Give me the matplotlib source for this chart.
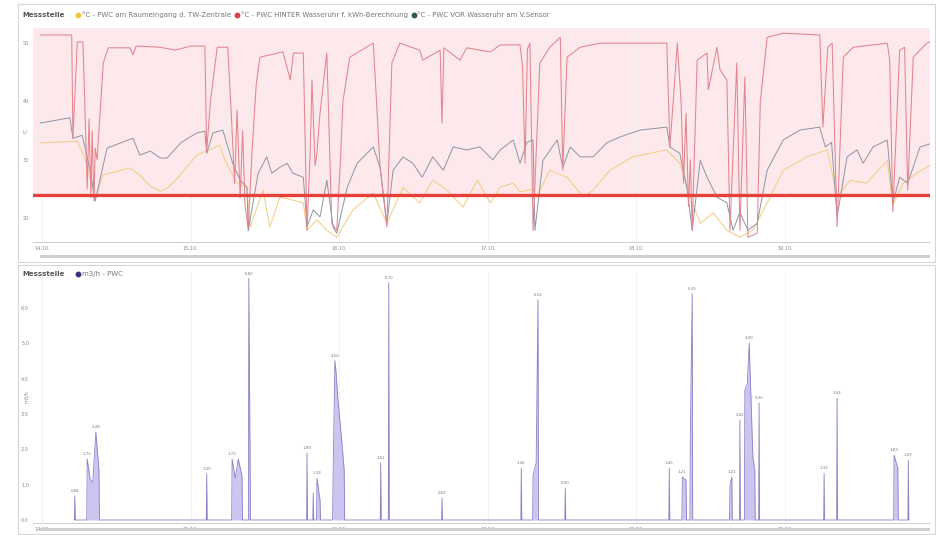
import matplotlib
matplotlib.use("Agg")
import matplotlib.pyplot as plt
from matplotlib.lines import Line2D
from matplotlib.patches import Rectangle

# °C - PWC HINTER Wasseruhr f. kWh-Berechnung
red_h = [-0.3, 4.8, 5.0, 5.7, 6.6, 6.9, 7.3, 7.6, 7.9, 8.1, 8.4, 8.6, 8.9, 9.5, 9.9, 10.7,
         14.2, 14.7, 15.2, 19.1, 21.5, 24.0, 26.3, 26.6, 27.2, 28.3, 30.0, 30.6, 31.1, 31.5,
         32.0, 32.4, 32.8, 33.3, 33.9, 34.6, 35.2, 38.9, 40.1, 40.6, 42.2, 42.8, 43.3, 43.6,
         44.1, 44.4, 44.9, 46.0, 46.8, 47.6, 48.2, 48.6, 49.7, 53.5, 54.6, 55.7, 56.5, 57.8,
         61.0, 61.5, 64.3, 64.6, 64.9, 67.5, 68.6, 72.4, 74.0, 77.2, 77.6, 78.0, 78.4, 78.8,
         79.3, 80.4, 82.0, 83.7, 84.1, 84.8, 86.9, 90.1, 100.9, 101.4, 102.6, 103.2, 103.6,
         104.0, 104.4, 104.7, 105.0, 105.8, 107.4, 107.6, 109.0, 109.5, 110.6, 111.1, 112.2,
         112.7, 113.5, 114.0, 115.5, 116.0, 117.1, 119.7, 125.6, 126.1, 126.9, 127.6, 128.4,
         129.4, 131.0, 136.5, 136.9, 137.4, 138.5, 139.3, 139.8, 140.7, 142.9, 144.0]
red_t = [51.4, 51.4, 33.7, 50.2, 50.2, 40.2, 25.0, 37.0, 23.5, 35.0, 22.9, 32.0, 30.0, 40.0, 46.6, 49.2,
         49.2, 48.0, 49.5, 49.3, 48.8, 49.5, 49.5, 31.5, 40.0, 49.3, 49.3, 37.2, 26.0, 38.5,
         23.5, 35.0, 22.0, 18.3, 31.0, 43.0, 47.6, 48.5, 43.7, 48.3, 48.3, 17.9, 31.0, 43.7,
         29.0, 31.1, 38.0, 48.3, 19.1, 17.9, 30.0, 40.0, 47.6, 50.0, 28.7, 18.5, 46.6, 50.0,
         48.8, 47.1, 48.8, 36.3, 49.2, 47.1, 49.2, 48.5, 49.7, 49.7, 46.0, 29.4, 49.0, 50.0,
         17.9, 46.6, 49.3, 51.0, 28.2, 47.6, 49.3, 50.0, 50.0, 32.2, 50.0, 40.0, 26.0,
         38.0, 22.0, 30.0, 17.9, 47.1, 48.3, 42.0, 49.3, 45.4, 43.7, 17.9, 46.6,
         17.9, 44.2, 16.7, 17.4, 40.0, 51.0, 51.7, 51.4, 35.6, 49.3, 50.0, 18.5,
         47.6, 49.3, 50.0, 47.0, 21.0, 48.8, 49.3, 24.8, 47.6, 50.0, 50.5]

# °C - PWC VOR Wasseruhr am V.Sensor
grey_h = [-0.3, 4.5, 5.0, 6.5, 7.8, 8.6, 10.5, 14.7, 15.8, 17.5, 19.1, 20.2, 22.5, 25.0, 26.3,
          26.6, 27.6, 29.2, 30.8, 32.0, 33.1, 33.3, 34.9, 36.3, 37.1, 38.4, 39.6, 40.5, 42.2,
          42.8, 43.8, 44.9, 46.0, 47.0, 47.6, 49.3, 50.9, 53.5, 54.6, 55.7, 56.7, 58.3, 59.9,
          61.4, 63.1, 64.8, 66.4, 68.6, 70.7, 72.8, 74.0, 76.1, 77.2, 78.3, 79.3, 79.6, 80.9,
          83.2, 84.1, 85.3, 86.9, 89.0, 91.2, 93.3, 96.6, 100.9, 101.4, 103.0, 104.2, 105.0,
          106.3, 107.4, 109.0, 110.6, 111.6, 112.7, 114.0, 115.5, 117.1, 119.7, 122.4, 125.6,
          126.5, 127.5, 128.4, 130.0, 131.6, 132.6, 134.2, 136.5, 137.4, 138.5, 139.8, 141.8, 143.9]
grey_t = [36.3, 37.2, 33.7, 34.2, 28.0, 22.9, 32.0, 33.7, 30.8, 31.5, 30.3, 30.3, 33.0, 34.6, 34.9,
          31.1, 34.6, 35.1, 29.4, 26.5, 25.3, 17.8, 27.7, 30.5, 27.7, 28.7, 29.4, 27.7, 27.0,
          18.5, 21.4, 20.2, 26.5, 18.5, 17.4, 25.3, 29.4, 32.2, 28.7, 19.1, 28.2, 30.5, 29.4,
          27.0, 30.5, 28.2, 32.2, 31.7, 32.2, 30.0, 31.7, 33.4, 29.4, 33.0, 33.4, 17.9, 29.9,
          33.4, 28.7, 32.2, 30.5, 30.5, 32.9, 33.9, 35.1, 35.6, 32.2, 31.1, 24.8, 17.9,
          29.9, 27.0, 23.6, 22.6, 17.9, 21.0, 17.9, 19.1, 28.2, 33.4, 35.1, 35.6,
          32.2, 33.0, 20.2, 30.5, 31.7, 29.4, 32.2, 33.4, 22.6, 27.0, 26.0, 32.2, 32.9]

# °C - PWC am Raumeingang d. TW-Zentrale
yel_h = [-0.3, 5.7, 7.0, 8.6, 9.9, 14.2, 15.8, 17.5, 19.1, 20.2, 22.0, 25.0, 28.7, 29.5, 31.5,
         33.1, 33.6, 35.7, 36.8, 38.4, 40.5, 42.2, 42.8, 44.4, 46.0, 47.6, 50.2, 53.5, 55.7,
         58.3, 61.0, 63.1, 65.4, 68.0, 70.3, 72.4, 74.0, 76.1, 77.2, 79.3, 79.9, 82.0, 84.8,
         87.4, 89.0, 91.7, 95.4, 100.9, 103.0, 104.7, 106.3, 108.4, 110.6, 112.7, 114.8, 117.1,
         119.7, 123.5, 126.8, 128.4, 130.5, 133.2, 136.5, 137.4, 139.1, 141.3, 143.9]
yel_t = [32.9, 33.2, 30.0, 23.4, 27.4, 28.6, 27.4, 25.5, 24.6, 25.1, 27.0, 30.8, 32.5, 30.0, 26.0,
         25.3, 18.5, 24.8, 18.5, 23.6, 23.1, 22.6, 17.9, 19.7, 17.9, 16.7, 21.4, 24.3, 19.1,
         25.3, 22.6, 26.5, 24.8, 21.9, 26.5, 22.6, 25.3, 26.0, 24.5, 25.0, 23.6, 28.2, 27.0,
         23.6, 24.8, 28.2, 30.5, 31.7, 29.4, 23.6, 19.1, 20.9, 17.9, 16.7, 17.9, 22.6,
         28.2, 30.5, 31.7, 23.6, 26.5, 26.0, 29.9, 22.3, 26.0, 27.7, 29.4]

# m3/h - PWC (Zapfereignisse)
flow_h = [5.3, 7.3, 7.8, 8.2, 8.7, 9.2, 26.6, 30.7, 31.2, 31.7, 32.3, 33.4, 33.6, 42.8, 43.8,
          44.4, 44.9, 47.0, 47.3, 47.5, 47.8, 48.1, 48.4, 48.8, 54.7, 56.0, 64.6, 77.4, 79.3,
          79.8, 80.1, 84.5, 101.3, 103.4, 104.0, 104.7, 105.0, 111.1, 111.4, 112.7, 113.5,
          113.9, 114.2, 114.5, 114.8, 115.1, 115.8, 126.3, 128.4, 137.6, 138.2, 139.9]
flow_v = [0.68, 1.72, 1.13, 1.07, 2.48, 1.41, 1.30, 1.72, 1.18, 1.72, 1.24, 6.82, 1.63, 1.89, 0.76,
          1.18, 0.56, 1.13, 4.50, 4.14, 3.38, 2.82, 2.25, 1.41, 1.61, 6.70, 0.62, 1.46, 1.27,
          1.61, 6.22, 0.90, 1.46, 1.21, 1.13, 2.45, 6.39, 0.99, 1.21, 2.82, 3.66,
          3.86, 4.99, 3.38, 1.77, 1.41, 3.30, 1.32, 3.44, 1.83, 1.46, 1.69]

day_ticks = [0, 24, 48, 72, 96, 120]
day_labels = ["14.10.", "15.10.", "16.10.", "17.10.", "18.10.", "19.10."]
temp_ticks = [20, 30, 40, 50]
flow_ticks = [0, 1, 2, 3, 4, 5, 6]
limit_temp = 24

W, H = 936, 535


def fx(px):
    return px / W


def fy(py):
    return 1 - py / H


def style_axes(ax, yticks, fmt):
    ax.set_xticks(day_ticks)
    ax.set_xticklabels(day_labels)
    ax.set_yticks(yticks)
    ax.set_yticklabels([fmt(v) for v in yticks])
    ax.tick_params(length=0, labelsize=3.5, labelcolor="#8a8a8a", pad=3)
    for s in ["top", "right", "left"]:
        ax.spines[s].set_visible(False)
    ax.spines["bottom"].set_color("#c8c8c8")
    ax.spines["bottom"].set_linewidth(0.6)
    ax.grid(axis="x", color="#f0f0f0", lw=0.6)
    ax.set_axisbelow(True)


fig = plt.figure(figsize=(W / 100, H / 100), dpi=100)

# Panel-Rahmen
for top, bot in [(4, 262), (265, 534)]:
    fig.add_artist(Rectangle((fx(18), fy(bot)), fx(917), (bot - top) / H,
                             transform=fig.transFigure, fill=False, ec="#d6d6d6", lw=0.8))

# --- Temperaturen ---
ax1 = fig.add_axes([fx(33), fy(242), fx(897), (242 - 28) / H])
ax1.set_xlim(-1.45, 143.4)
ax1.set_ylim(15.9, 52.6)
ax1.axhspan(limit_temp, 52.6, color="#fde9ec", lw=0, zorder=0)
ax1.plot(yel_h, yel_t, color="#f0cd7c", lw=0.7)
ax1.plot(grey_h, grey_t, color="#8d93a4", lw=0.7)
ax1.plot(red_h, red_t, color="#e3848f", lw=0.75)
ax1.axhline(limit_temp, color="#e5403a", lw=2.4)
style_axes(ax1, temp_ticks, lambda v: f"{v}")

fig.text(fx(22), fy(15), "Messstelle", fontsize=5, weight="bold", color="#555555", va="center")
handles = [Line2D([], [], ls="", marker="o", ms=3.2, color=c) for c in ["#f2c640", "#d8404a", "#2f5a48"]]
labels = ["°C - PWC am Raumeingang d. TW-Zentrale",
          "°C - PWC HINTER Wasseruhr f. kWh-Berechnung",
          "°C - PWC VOR Wasseruhr am V.Sensor"]
fig.legend(handles, labels, loc="center left", bbox_to_anchor=(fx(72), fy(15)), ncol=3,
           frameon=False, fontsize=5, handletextpad=0.1, columnspacing=0.5,
           handlelength=0.8, borderpad=0, labelcolor="#777777")
fig.text(fx(24), fy(131), "°C", fontsize=3.5, color="#8a8a8a", rotation=90, va="center")
fig.add_artist(Rectangle((fx(40), fy(258)), fx(890), 3 / H, transform=fig.transFigure,
                         fc="#cfcfcf", ec="none"))

# --- Durchfluss ---
ax2 = fig.add_axes([fx(33), fy(523), fx(897), (523 - 272) / H])
ax2.set_xlim(-1.45, 143.4)
ax2.set_ylim(-0.085, 7.0)
t_pts, v_pts = [], []
for i, (h, v) in enumerate(zip(flow_h, flow_v)):
    if i == 0 or h - flow_h[i - 1] > 0.6:
        t_pts += [h - 0.08, h - 0.07]
        v_pts += [0, 0]
    t_pts.append(h)
    v_pts.append(v)
    if i == len(flow_h) - 1 or flow_h[i + 1] - h > 0.6:
        t_pts += [h + 0.07, h + 0.08]
        v_pts += [0, 0]
ax2.fill_between(t_pts, v_pts, color="#cdc5ef", lw=0)
ax2.plot(t_pts, v_pts, color="#8b80c6", lw=0.6)

# Werte-Labels an den Spitzen (nur wenn genug Abstand zum vorigen Label)
last_h = -99
for i, (h, v) in enumerate(zip(flow_h, flow_v)):
    left = flow_v[i - 1] if i > 0 and h - flow_h[i - 1] <= 0.6 else 0
    right = flow_v[i + 1] if i < len(flow_h) - 1 and flow_h[i + 1] - h <= 0.6 else 0
    if v >= left and v >= right and h - last_h > 1.2:
        ax2.text(h, v + 0.08, f"{v:.2f}".replace(".", ","), fontsize=2.8,
                 color="#7a7a7a", ha="center", va="bottom")
        last_h = h
style_axes(ax2, flow_ticks, lambda v: f"{v:.1f}".replace(".", ","))

fig.text(fx(22), fy(274), "Messstelle", fontsize=5, weight="bold", color="#555555", va="center")
fig.legend([Line2D([], [], ls="", marker="o", ms=3.2, color="#3b3580")], ["m3/h - PWC"],
           loc="center left", bbox_to_anchor=(fx(72), fy(274)), frameon=False, fontsize=5,
           handletextpad=0.1, handlelength=0.8, borderpad=0, labelcolor="#777777")
fig.text(fx(24), fy(397), "m3/h", fontsize=3.5, color="#8a8a8a", rotation=90, va="center")
fig.add_artist(Rectangle((fx(40), fy(531)), fx(890), 3 / H, transform=fig.transFigure,
                         fc="#cfcfcf", ec="none"))

fig.savefig("out.png", dpi=100)
